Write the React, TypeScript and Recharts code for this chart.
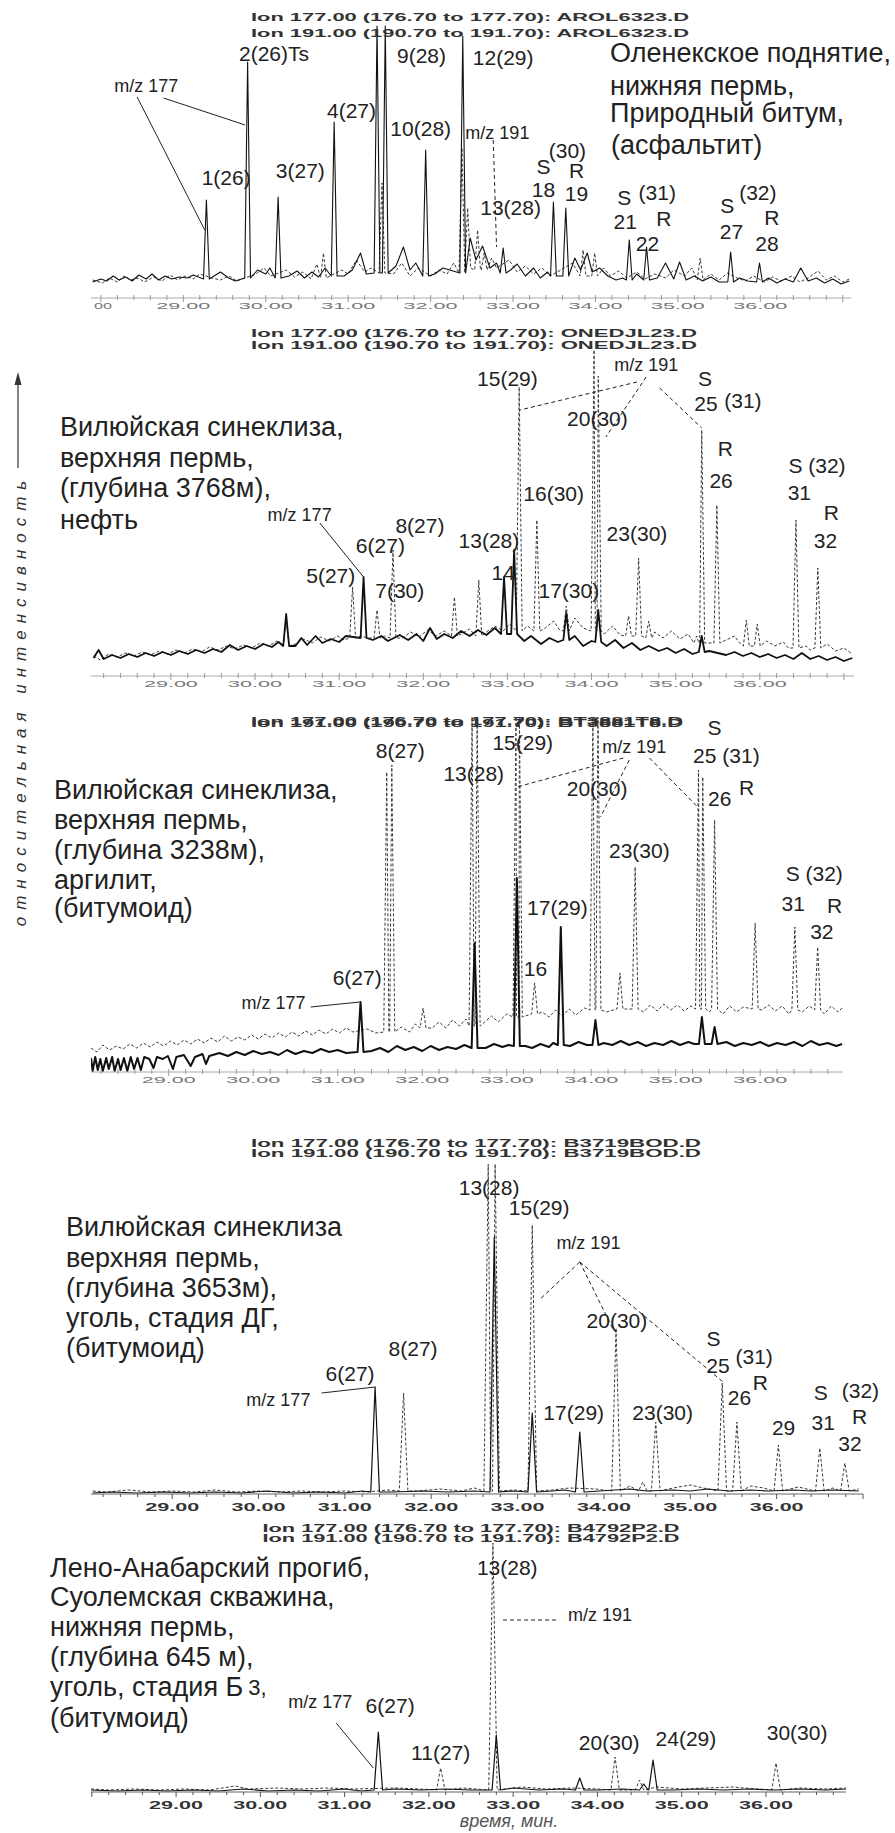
import React from 'react';
import { LineChart, Line, XAxis, YAxis, ReferenceDot, ReferenceLine } from 'recharts';

// Chromatogram data: retention time (min) and intensity (relative units above the time axis).
// Peaks are [time, apex, foot]; background points are [time, level].
type Peak = [number, number, number];
type Pt = [number, number];
type Lbl = [string, number, number, 'p' | 'm'];
type Leader = [number, number, number, number, 0 | 1];

// Minutes that carry a printed label on the time axes
const LABELLED_MINUTES = [29, 30, 31, 32, 33, 34, 35, 36];

// ---------- Panel 1: AROL6323 ----------
const P1_177_PEAKS: Peak[] = [
  [29.28, 98, 19], [29.78, 236, 20], [30.15, 101, 20], [30.83, 176, 22], [31.35, 272, 25],
  [31.45, 272, 25], [31.94, 148, 22], [32.39, 262, 25], [32.88, 50, 25], [33.49, 96, 22],
  [33.64, 90, 22], [34.41, 58, 18], [34.62, 51, 18], [35.64, 46, 16], [35.99, 35, 16],
];
const P1_177_NOISE: Pt[] = [
  [27.90, 16], [28.00, 19], [28.07, 17], [28.15, 22], [28.22, 18], [28.30, 21], [28.38, 17], [28.46, 23],
  [28.55, 19], [28.62, 24], [28.70, 18], [28.78, 22], [28.86, 19], [28.95, 21], [29.05, 20], [29.12, 23],
  [29.45, 26], [29.55, 20], [29.63, 17], [29.90, 28], [30.00, 24], [30.05, 30], [30.28, 22], [30.38, 27],
  [30.47, 20], [30.56, 26], [30.64, 21], [30.72, 30], [30.95, 22], [31.05, 28], [31.15, 45], [31.22, 24],
  [31.58, 32], [31.67, 51], [31.75, 28], [31.82, 35], [32.05, 24], [32.15, 30], [32.48, 60], [32.55, 38],
  [32.63, 52], [32.72, 30], [32.80, 35], [32.97, 28], [33.05, 34], [33.15, 22], [33.25, 30], [33.33, 20],
  [33.42, 26], [33.75, 40], [33.82, 28], [33.90, 45], [33.96, 26], [34.05, 30], [34.15, 22], [34.25, 18],
  [34.33, 20], [34.50, 24], [34.75, 20], [34.85, 35], [34.95, 19], [35.02, 36], [35.10, 18], [35.20, 22],
  [35.30, 17], [35.40, 21], [35.50, 16], [35.75, 20], [35.85, 17], [36.10, 20], [36.20, 15], [36.30, 19],
  [36.40, 16], [36.49, 30], [36.58, 17], [36.68, 20], [36.78, 15], [36.88, 19], [36.98, 14], [37.08, 17],
];
const P1_191_PEAKS: Peak[] = [
  [30.70, 45, 20], [31.41, 115, 25], [32.38, 150, 25], [32.45, 90, 30], [32.57, 68, 28],
  [32.65, 45, 28], [33.85, 48, 22], [33.99, 45, 22], [35.27, 40, 18],
];
const P1_191_NOISE: Pt[] = [
  [27.90, 18], [28.02, 15], [28.10, 20], [28.20, 16], [28.28, 22], [28.36, 18], [28.45, 20], [28.53, 16],
  [28.64, 21], [28.74, 17], [28.84, 23], [28.93, 18], [29.02, 22], [29.12, 19], [29.20, 24], [29.35, 20],
  [29.45, 18], [29.55, 22], [29.65, 17], [29.88, 24], [29.98, 30], [30.06, 22], [30.25, 28], [30.35, 21],
  [30.45, 26], [30.55, 19], [30.62, 34], [30.78, 22], [30.92, 28], [31.00, 24], [31.10, 38], [31.20, 26],
  [31.28, 30], [31.55, 24], [31.65, 35], [31.75, 22], [31.85, 30], [32.00, 22], [32.10, 28], [32.20, 24],
  [32.28, 35], [32.74, 40], [32.80, 30], [32.95, 38], [33.05, 26], [33.15, 32], [33.25, 24], [33.35, 30],
  [33.45, 22], [33.58, 28], [33.72, 35], [34.10, 30], [34.18, 22], [34.28, 27], [34.38, 20], [34.50, 26],
  [34.60, 19], [34.72, 24], [34.85, 20], [34.95, 28], [35.08, 22], [35.17, 30], [35.40, 24], [35.50, 18],
  [35.60, 25], [35.72, 20], [35.82, 17], [35.92, 22], [36.05, 16], [36.15, 21], [36.25, 17], [36.38, 22],
  [36.48, 16], [36.58, 20], [36.70, 27], [36.80, 18], [36.90, 22], [37.00, 16], [37.08, 19],
];
const P1_LABELS: Lbl[] = [
  ['m/z 177', 28.55, 212, 'm'], ['1(26)', 29.52, 121, 'p'], ['2(26)Ts', 30.10, 245, 'p'],
  ['3(27)', 30.42, 128, 'p'], ['4(27)', 31.04, 188, 'p'], ['9(28)', 31.89, 243, 'p'],
  ['10(28)', 31.88, 170, 'p'], ['12(29)', 32.88, 241, 'p'], ['m/z 191', 32.81, 165, 'm'],
  ['13(28)', 32.97, 91, 'p'], ['S', 33.37, 132, 'p'], ['(30)', 33.66, 148, 'p'], ['18', 33.37, 109, 'p'],
  ['R', 33.77, 128, 'p'], ['19', 33.77, 105, 'p'], ['S', 34.35, 101, 'p'], ['(31)', 34.75, 106, 'p'],
  ['21', 34.36, 77, 'p'], ['R', 34.83, 80, 'p'], ['22', 34.63, 55, 'p'], ['S', 35.60, 93, 'p'],
  ['(32)', 35.97, 106, 'p'], ['27', 35.65, 67, 'p'], ['R', 36.14, 81, 'p'], ['28', 36.08, 55, 'p'],
];
const P1_LEADERS: Leader[] = [
  [28.44, 201, 29.26, 68, 0], [28.76, 200, 29.75, 173, 0], [32.76, 158, 32.80, 51, 1],
];
const P1_HEADER = ['Ion 177.00 (176.70 to 177.70): AROL6323.D', 'Ion 191.00 (190.70 to 191.70): AROL6323.D'];
const P1_CAPTION = ['Оленекское поднятие,', 'нижняя пермь,', 'Природный битум,', ' (асфальтит)'];

// ---------- Panel 2: ONEDJL23 ----------
const P2_177_PEAKS: Peak[] = [
  [30.37, 62, 30], [31.29, 99, 38], [32.96, 99, 42], [33.08, 126, 42], [33.70, 63, 36],
  [34.08, 66, 34], [35.31, 40, 24],
];
const P2_177_NOISE: Pt[] = [
  [28.08, 18], [28.14, 26], [28.20, 17], [28.30, 21], [28.40, 18], [28.50, 22], [28.60, 19], [28.70, 23],
  [28.80, 20], [28.90, 24], [29.00, 21], [29.10, 25], [29.20, 22], [29.30, 26], [29.40, 23], [29.50, 27],
  [29.60, 24], [29.70, 31], [29.80, 26], [29.90, 30], [30.00, 27], [30.10, 32], [30.20, 29], [30.28, 34],
  [30.48, 30], [30.55, 38], [30.62, 31], [30.72, 40], [30.80, 33], [30.90, 37], [31.00, 34], [31.08, 40],
  [31.40, 36], [31.50, 40], [31.58, 35], [31.72, 41], [31.82, 36], [31.92, 42], [32.00, 35], [32.08, 48],
  [32.16, 37], [32.25, 42], [32.35, 38], [32.45, 45], [32.55, 40], [32.65, 46], [32.75, 41], [32.85, 48],
  [33.20, 35], [33.28, 40], [33.40, 32], [33.50, 38], [33.60, 34], [33.80, 40], [33.90, 30], [34.00, 35],
  [34.18, 30], [34.28, 36], [34.38, 28], [34.48, 33], [34.58, 26], [34.68, 30], [34.80, 25], [34.90, 28],
  [35.00, 23], [35.10, 27], [35.20, 22], [35.40, 25], [35.60, 21], [35.70, 24], [35.80, 20], [35.90, 23],
  [36.00, 19], [36.10, 22], [36.20, 18], [36.30, 21], [36.40, 17], [36.50, 23], [36.60, 17], [36.70, 20],
  [36.80, 16], [36.90, 19], [37.00, 15], [37.10, 18],
];
const P2_191_PEAKS: Peak[] = [
  [30.37, 55, 30], [31.16, 89, 38], [31.45, 66, 38], [31.64, 126, 38], [32.37, 79, 40], [32.66, 96, 40],
  [33.14, 289, 45], [33.35, 156, 45], [33.70, 70, 45], [34.03, 326, 45], [34.08, 300, 45],
  [34.44, 60, 40], [34.56, 118, 40], [34.68, 55, 38], [35.25, 40, 33], [35.31, 246, 33],
  [35.49, 171, 33], [35.84, 56, 30], [35.97, 52, 30], [36.43, 156, 28], [36.69, 108, 28],
];
const P2_191_NOISE: Pt[] = [
  [28.08, 20], [28.16, 16], [28.26, 22], [28.36, 19], [28.46, 23], [28.56, 20], [28.66, 24], [28.76, 21],
  [28.86, 25], [28.96, 22], [29.06, 26], [29.16, 23], [29.26, 27], [29.36, 24], [29.46, 29], [29.56, 26],
  [29.66, 30], [29.76, 27], [29.86, 31], [29.96, 28], [30.06, 33], [30.16, 30], [30.26, 35], [30.48, 32],
  [30.58, 37], [30.68, 33], [30.78, 39], [30.88, 35], [30.98, 40], [31.06, 36], [31.26, 40], [31.34, 38],
  [31.54, 40], [31.75, 38], [31.85, 44], [31.95, 39], [32.05, 46], [32.15, 40], [32.25, 45], [32.45, 42],
  [32.55, 47], [32.75, 44], [32.85, 50], [32.95, 45], [33.03, 52], [33.24, 50], [33.45, 48], [33.55, 55],
  [33.62, 46], [33.80, 58], [33.90, 48], [34.15, 42], [34.25, 50], [34.34, 41], [34.75, 44], [34.85, 38],
  [34.95, 45], [35.05, 37], [35.15, 42], [35.60, 36], [35.70, 40], [35.76, 33], [36.08, 35], [36.18, 30],
  [36.28, 34], [36.34, 28], [36.55, 30], [36.60, 26], [36.80, 32], [36.90, 25], [37.00, 28], [37.10, 22],
];
const P2_LABELS: Lbl[] = [
  ['m/z 177', 30.53, 161, 'm'], ['5(27)', 30.90, 101, 'p'], ['6(27)', 31.49, 131, 'p'],
  ['7(30)', 31.72, 86, 'p'], ['8(27)', 31.96, 151, 'p'], ['13(28)', 32.78, 136, 'p'],
  ['14', 32.95, 104, 'p'], ['15(29)', 33.00, 298, 'p'], ['16(30)', 33.55, 183, 'p'],
  ['17(30)', 33.73, 86, 'p'], ['20(30)', 34.07, 258, 'p'], ['m/z 191', 34.65, 311, 'm'],
  ['23(30)', 34.54, 143, 'p'], ['S', 35.35, 298, 'p'], ['25', 35.36, 273, 'p'], ['(31)', 35.80, 276, 'p'],
  ['R', 35.59, 228, 'p'], ['26', 35.54, 196, 'p'], ['S (32)', 36.68, 211, 'p'], ['31', 36.47, 184, 'p'],
  ['R', 36.85, 164, 'p'], ['32', 36.78, 136, 'p'],
];
const P2_LEADERS: Leader[] = [
  [30.77, 153, 31.29, 99, 0], [34.54, 294, 33.15, 266, 1], [34.65, 299, 34.17, 239, 1], [34.81, 288, 35.31, 248, 1],
];
const P2_HEADER = ['Ion 177.00 (176.70 to 177.70): ONEDJL23.D', 'Ion 191.00 (190.70 to 191.70): ONEDJL23.D'];
const P2_CAPTION = ['Вилюйская синеклиза,', 'верхняя пермь,', '(глубина 3768м),', 'нефть'];

// ---------- Panel 3: BT3881T8 ----------
const P3_177_PEAKS: Peak[] = [
  [31.27, 70, 20], [32.62, 129, 24], [33.12, 194, 26], [33.64, 145, 27], [34.05, 52, 27],
  [35.31, 55, 28], [35.46, 45, 28],
];
const P3_177_NOISE: Pt[] = [
  [28.08, 14], [28.10, 1], [28.13, 15], [28.16, 2], [28.19, 13], [28.22, 1], [28.26, 14], [28.29, 3],
  [28.33, 15], [28.36, 1], [28.40, 13], [28.43, 2], [28.47, 14], [28.51, 1], [28.55, 15], [28.59, 3],
  [28.63, 14], [28.67, 2], [28.71, 15], [28.77, 13], [28.82, 4], [28.86, 15], [28.93, 13], [28.99, 16],
  [29.05, 3], [29.09, 15], [29.18, 17], [29.26, 6], [29.31, 15], [29.40, 18], [29.44, 8], [29.48, 16],
  [29.60, 19], [29.70, 16], [29.80, 20], [29.90, 17], [30.00, 21], [30.10, 18], [30.20, 20], [30.30, 17],
  [30.40, 22], [30.50, 18], [30.60, 21], [30.70, 19], [30.80, 23], [30.90, 20], [31.00, 22], [31.10, 19],
  [31.40, 21], [31.50, 24], [31.60, 20], [31.70, 26], [31.80, 22], [31.90, 25], [32.00, 21], [32.10, 26],
  [32.20, 22], [32.30, 25], [32.40, 23], [32.50, 27], [32.75, 24], [32.85, 28], [32.95, 25], [33.02, 27],
  [33.22, 26], [33.30, 24], [33.40, 28], [33.50, 25], [33.55, 29], [33.75, 26], [33.85, 30], [33.95, 27],
  [34.15, 29], [34.25, 27], [34.35, 31], [34.45, 27], [34.55, 30], [34.65, 26], [34.75, 29], [34.85, 27],
  [34.95, 31], [35.05, 27], [35.15, 30], [35.22, 28], [35.60, 30], [35.70, 26], [35.80, 29], [35.90, 27],
  [36.00, 30], [36.10, 26], [36.20, 29], [36.30, 27], [36.40, 30], [36.50, 26], [36.60, 31], [36.70, 27],
  [36.80, 29], [36.90, 26], [36.97, 28],
];
const P3_191_PEAKS: Peak[] = [
  [31.58, 300, 40], [31.64, 307, 40], [32.01, 64, 44], [32.59, 355, 46], [32.65, 355, 46],
  [33.11, 355, 55], [33.15, 355, 55], [33.33, 89, 58], [34.02, 355, 62], [34.08, 355, 62],
  [34.34, 99, 63], [34.52, 205, 63], [35.27, 302, 63], [35.32, 295, 63], [35.46, 252, 63],
  [35.94, 149, 63], [36.41, 145, 62], [36.68, 125, 62],
];
const P3_191_NOISE: Pt[] = [
  [28.08, 24], [28.15, 20], [28.22, 27], [28.30, 22], [28.38, 26], [28.46, 23], [28.54, 28], [28.62, 24],
  [28.70, 29], [28.78, 25], [28.86, 30], [28.94, 26], [29.02, 31], [29.10, 27], [29.18, 32], [29.26, 28],
  [29.34, 33], [29.42, 29], [29.50, 34], [29.58, 30], [29.66, 36], [29.74, 31], [29.82, 35], [29.90, 32],
  [29.98, 37], [30.06, 33], [30.14, 38], [30.22, 34], [30.30, 39], [30.38, 35], [30.46, 40], [30.54, 36],
  [30.62, 41], [30.70, 37], [30.78, 42], [30.86, 38], [30.94, 43], [31.02, 39], [31.10, 44], [31.18, 40],
  [31.35, 43], [31.45, 39], [31.75, 45], [31.85, 40], [31.92, 48], [32.12, 44], [32.20, 50], [32.28, 44],
  [32.36, 52], [32.44, 46], [32.52, 53], [32.74, 50], [32.82, 56], [32.90, 50], [33.00, 58], [33.22, 56],
  [33.42, 60], [33.50, 55], [33.58, 62], [33.66, 56], [33.74, 63], [33.82, 57], [33.92, 64], [34.18, 60],
  [34.42, 63], [34.62, 60], [34.70, 67], [34.78, 61], [34.86, 68], [34.94, 62], [35.02, 67], [35.10, 61],
  [35.18, 66], [35.40, 60], [35.56, 58], [35.64, 66], [35.72, 60], [35.80, 65], [36.02, 62], [36.10, 67],
  [36.18, 61], [36.26, 66], [36.34, 58], [36.50, 60], [36.58, 66], [36.76, 58], [36.84, 66], [36.92, 60],
  [36.97, 64],
];
const P3_LABELS: Lbl[] = [
  ['m/z 177', 30.24, 69, 'm'], ['6(27)', 31.23, 95, 'p'], ['8(27)', 31.74, 322, 'p'],
  ['13(28)', 32.61, 299, 'p'], ['15(29)', 33.19, 330, 'p'], ['16', 33.34, 104, 'p'],
  ['17(29)', 33.60, 165, 'p'], ['20(30)', 34.07, 284, 'p'], ['m/z 191', 34.51, 325, 'm'],
  ['23(30)', 34.57, 222, 'p'], ['S', 35.46, 345, 'p'], ['25 (31)', 35.60, 317, 'p'], ['26', 35.52, 274, 'p'],
  ['R', 35.84, 285, 'p'], ['S (32)', 36.64, 199, 'p'], ['31', 36.39, 169, 'p'], ['R', 36.88, 167, 'p'],
  ['32', 36.73, 141, 'p'],
];
const P3_LEADERS: Leader[] = [
  [30.68, 65, 31.26, 70, 0], [34.38, 314, 33.12, 285, 1], [34.45, 312, 34.11, 255, 1], [34.69, 314, 35.26, 265, 1],
];
const P3_HEADER = ['Ion 177.00 (176.70 to 177.70): BT3881T8.D', 'Ion 191.00 (190.70 to 191.70): BT3881T8.D'];
const P3_CAPTION = ['Вилюйская синеклиза,', 'верхняя пермь,', '(глубина 3238м),', 'аргилит,', '(битумоид)'];

// ---------- Panel 4: B3719BOD ----------
const P4_177_PEAKS: Peak[] = [
  [31.35, 107, 2], [32.73, 257, 2], [33.17, 81, 2], [33.72, 62, 2],
];
const P4_177_NOISE: Pt[] = [
  [28.08, 1], [28.30, 2], [28.60, 1], [28.90, 2], [29.20, 1], [29.50, 2], [29.80, 1], [30.10, 3],
  [30.40, 1], [30.70, 2], [31.00, 1], [31.20, 3], [31.55, 2], [31.90, 3], [32.20, 2], [32.50, 3],
  [32.95, 3], [33.40, 3], [33.55, 4], [33.95, 3], [34.30, 5], [34.50, 3], [34.80, 4], [35.00, 3],
  [35.20, 5], [35.45, 3], [35.70, 4], [35.90, 3], [36.20, 4], [36.40, 3], [36.65, 4], [36.95, 3],
];
const P4_191_PEAKS: Peak[] = [
  [31.68, 101, 3], [32.66, 330, 3], [32.74, 330, 3], [33.17, 269, 3], [34.14, 166, 3], [34.45, 12, 3],
  [34.60, 72, 3], [35.37, 111, 3], [35.54, 72, 3], [36.02, 49, 3], [36.50, 46, 3], [36.79, 31, 3],
];
const P4_191_NOISE: Pt[] = [
  [28.08, 3], [28.25, 2], [28.50, 4], [28.75, 2], [29.00, 3], [29.25, 2], [29.50, 4], [29.75, 2],
  [30.00, 3], [30.25, 2], [30.50, 3], [30.75, 2], [31.00, 3], [31.25, 2], [31.50, 4], [31.85, 3],
  [32.10, 5], [32.35, 3], [32.50, 6], [32.95, 4], [33.40, 4], [33.60, 6], [33.90, 5], [34.30, 8],
  [34.80, 6], [35.00, 9], [35.15, 6], [35.70, 8], [35.85, 6], [36.25, 7], [36.65, 6], [36.95, 5],
];
const P4_LABELS: Lbl[] = [
  ['m/z 177', 30.23, 94, 'm'], ['6(27)', 31.06, 121, 'p'], ['8(27)', 31.79, 146, 'p'],
  ['13(28)', 32.67, 307, 'p'], ['15(29)', 33.25, 287, 'p'], ['m/z 191', 33.82, 251, 'm'],
  ['17(29)', 33.65, 82, 'p'], ['20(30)', 34.15, 174, 'p'], ['23(30)', 34.68, 82, 'p'],
  ['S', 35.27, 156, 'p'], ['25', 35.32, 129, 'p'], ['(31)', 35.74, 138, 'p'], ['R', 35.81, 112, 'p'],
  ['26', 35.57, 97, 'p'], ['29', 36.08, 67, 'p'], ['S', 36.51, 102, 'p'], ['(32)', 36.97, 104, 'p'],
  ['31', 36.54, 72, 'p'], ['R', 36.96, 78, 'p'], ['32', 36.85, 51, 'p'],
];
const P4_LEADERS: Leader[] = [
  [30.73, 101, 31.35, 107, 0], [33.72, 232, 33.25, 194, 1], [33.72, 232, 34.11, 164, 1], [33.72, 232, 35.38, 112, 1],
];
const P4_HEADER = ['Ion 177.00 (176.70 to 177.70): B3719BOD.D', 'Ion 191.00 (190.70 to 191.70): B3719BOD.D'];
const P4_CAPTION = ['Вилюйская синеклиза', 'верхняя пермь,', '(глубина 3653м),', 'уголь, стадия ДГ,', '(битумоид)'];

// ---------- Panel 5: B4792P2 ----------
const P5_177_PEAKS: Peak[] = [
  [31.40, 60, 2], [32.80, 57, 2], [33.79, 14, 2], [34.55, 8, 2], [34.66, 32, 2],
];
const P5_177_NOISE: Pt[] = [
  [27.99, 2], [28.30, 1], [28.60, 2], [28.90, 1], [29.20, 2], [29.50, 1], [29.80, 3], [30.10, 1],
  [30.40, 2], [30.70, 1], [31.00, 3], [31.20, 1], [31.60, 3], [31.90, 2], [32.20, 3], [32.50, 2],
  [33.00, 4], [33.30, 2], [33.60, 3], [34.00, 2], [34.30, 3], [34.90, 2], [35.20, 3], [35.50, 2],
  [35.80, 3], [36.10, 2], [36.40, 3], [36.70, 2], [36.95, 3],
];
const P5_191_PEAKS: Peak[] = [
  [32.14, 24, 2], [32.76, 249, 2], [34.21, 35, 2], [34.50, 12, 2], [36.12, 29, 2],
];
const P5_191_NOISE: Pt[] = [
  [27.99, 3], [28.20, 2], [28.50, 3], [28.80, 2], [29.10, 3], [29.40, 2], [29.70, 6], [29.85, 3],
  [30.20, 4], [30.50, 3], [30.80, 4], [31.10, 3], [31.60, 4], [31.90, 3], [32.40, 4], [33.10, 5],
  [33.40, 3], [33.70, 4], [34.00, 3], [34.70, 5], [35.00, 3], [35.30, 4], [35.60, 5], [35.90, 3],
  [36.40, 4], [36.70, 3], [36.95, 4],
];
const P5_LABELS: Lbl[] = [
  ['m/z 177', 30.71, 90, 'm'], ['6(27)', 31.54, 87, 'p'], ['11(27)', 32.14, 40, 'p'],
  ['13(28)', 32.93, 225, 'p'], ['m/z 191', 34.03, 177, 'm'], ['20(30)', 34.14, 50, 'p'],
  ['24(29)', 35.05, 54, 'p'], ['30(30)', 36.37, 60, 'p'],
];
const P5_LEADERS: Leader[] = [
  [30.90, 69, 31.34, 24, 0], [32.88, 172, 33.52, 172, 1],
];
const P5_HEADER = ['Ion 177.00 (176.70 to 177.70): B4792P2.D', 'Ion 191.00 (190.70 to 191.70): B4792P2.D'];
const P5_CAPTION = ['Лено-Анабарский прогиб,', 'Суолемская скважина,', 'нижняя пермь,', '(глубина 645 м),', 'уголь, стадия Б', '(битумоид)'];

const Y_TITLE = 'относительная интенсивность';
const X_TITLE = 'время, мин.';

// ---------- helpers ----------
const FONT = '"Liberation Sans", Arial, Helvetica, sans-serif';

function buildTrace(peaks: Peak[], noise: Pt[], w: number) {
  const pts: { t: number; v: number }[] = [];
  for (const [t, apex, foot] of peaks) {
    pts.push({ t: t - w, v: foot }, { t, v: apex }, { t: t + w, v: foot });
  }
  for (const [t, v] of noise) {
    if (peaks.some(([pt]) => Math.abs(pt - t) < w + 0.012)) continue;
    pts.push({ t, v });
  }
  return pts.sort((a, b) => a.t - b.t);
}

function timeTicks(domain: [number, number]) {
  const out: number[] = [];
  for (let k = Math.ceil(domain[0] * 5); k <= Math.floor(domain[1] * 5); k++) out.push(k / 5);
  return out;
}

interface PanelCfg {
  plotTop: number;
  axisY: number;
  left: number;
  right: number;
  domain: [number, number];
  solidW: number;
  bold: boolean;
  clipFirst: boolean;
  s177: { t: number; v: number }[];
  s191: { t: number; v: number }[];
  labels: Lbl[];
  leaders: Leader[];
}

function TimeTick(props: any) {
  const { x, y, payload, bold, clipFirst } = props;
  const t: number = payload.value;
  const k = Math.round(t * 5);
  const major = k % 5 === 0;
  const mark = bold
    ? <line x1={x} x2={x} y1={y} y2={y + (major ? 5 : 3)} stroke="#555" strokeWidth={1} />
    : <line x1={x} x2={x} y1={y - 3} y2={y + (major ? 4 : 2)} stroke="#999" strokeWidth={1} />;
  const minute = Math.round(t);
  const stub = clipFirst && major && minute === 28;
  if (!major || (!stub && !LABELLED_MINUTES.includes(minute))) return <g>{mark}</g>;
  const txt = stub ? '00' : t.toFixed(2);
  return (
    <g>
      {mark}
      <text
        x={stub ? x + 2 : x}
        y={y + (bold ? 12.5 : 7.5)}
        textAnchor="middle"
        dominantBaseline="central"
        fontFamily={FONT}
        fontSize={bold ? 10.5 : 9}
        fontWeight={bold ? 'bold' : 'normal'}
        fill={bold ? '#333' : '#777'}
        textLength={stub ? 18 : 54}
        lengthAdjust="spacingAndGlyphs"
      >
        {txt}
      </text>
    </g>
  );
}

function PeakLabel(props: any) {
  const { viewBox, txt, kind } = props;
  if (!viewBox) return null;
  return (
    <text
      x={viewBox.x}
      y={viewBox.y}
      textAnchor="middle"
      dominantBaseline="central"
      fontFamily={FONT}
      fontSize={kind === 'm' ? 18 : 21}
      fill="#222"
    >
      {txt}
    </text>
  );
}

function Panel({ cfg }: { cfg: PanelCfg }) {
  const plotH = cfg.axisY - cfg.plotTop;
  const height = plotH + 26;
  const ticks = timeTicks(cfg.domain);
  return (
    <div style={{ position: 'absolute', left: 0, top: cfg.plotTop }}>
      <LineChart
        width={895}
        height={height}
        margin={{ top: 0, right: 895 - cfg.right, bottom: 0, left: cfg.left }}
      >
        <XAxis
          dataKey="t"
          type="number"
          domain={cfg.domain}
          allowDataOverflow
          ticks={ticks}
          interval={0}
          height={26}
          tickSize={0}
          tickMargin={0}
          tickLine={false}
          axisLine={{ stroke: cfg.bold ? '#666' : '#aaa', strokeWidth: 1 }}
          tick={<TimeTick bold={cfg.bold} clipFirst={cfg.clipFirst} />}
        />
        <YAxis type="number" domain={[0, plotH]} allowDataOverflow hide />
        <Line
          data={cfg.s191}
          dataKey="v"
          type="linear"
          stroke="#3a3a3a"
          strokeWidth={1}
          strokeDasharray="3 2"
          dot={false}
          activeDot={false}
          isAnimationActive={false}
        />
        <Line
          data={cfg.s177}
          dataKey="v"
          type="linear"
          stroke="#111"
          strokeWidth={cfg.solidW}
          strokeLinejoin="round"
          dot={false}
          activeDot={false}
          isAnimationActive={false}
        />
        {cfg.leaders.map(([t1, v1, t2, v2, dashed], i) => (
          <ReferenceLine
            key={`ld${i}`}
            segment={[{ x: t1, y: v1 }, { x: t2, y: v2 }]}
            stroke="#222"
            strokeWidth={1}
            strokeDasharray={dashed ? '4 3' : undefined}
            ifOverflow="visible"
          />
        ))}
        {cfg.labels.map(([txt, t, v, kind], i) => (
          <ReferenceDot
            key={`lb${i}`}
            x={t}
            y={v}
            r={0}
            fill="none"
            stroke="none"
            ifOverflow="visible"
            label={<PeakLabel txt={txt} kind={kind} />}
          />
        ))}
      </LineChart>
    </div>
  );
}

const PANELS: PanelCfg[] = [
  {
    plotTop: 20, axisY: 298, left: 91, right: 851, domain: [27.88, 37.1], solidW: 1.1,
    bold: false, clipFirst: true,
    s177: buildTrace(P1_177_PEAKS, P1_177_NOISE, 0.035), s191: buildTrace(P1_191_PEAKS, P1_191_NOISE, 0.035),
    labels: P1_LABELS, leaders: P1_LEADERS,
  },
  {
    plotTop: 345, axisY: 676, left: 91, right: 854, domain: [28.05, 37.12], solidW: 1.8,
    bold: false, clipFirst: false,
    s177: buildTrace(P2_177_PEAKS, P2_177_NOISE, 0.035), s191: buildTrace(P2_191_PEAKS, P2_191_NOISE, 0.035),
    labels: P2_LABELS, leaders: P2_LEADERS,
  },
  {
    plotTop: 712, axisY: 1072, left: 91, right: 843, domain: [28.08, 36.98], solidW: 2,
    bold: false, clipFirst: false,
    s177: buildTrace(P3_177_PEAKS, P3_177_NOISE, 0.035), s191: buildTrace(P3_191_PEAKS, P3_191_NOISE, 0.035),
    labels: P3_LABELS, leaders: P3_LEADERS,
  },
  {
    plotTop: 1160, axisY: 1494, left: 91, right: 863, domain: [28.06, 37.0], solidW: 1.2,
    bold: true, clipFirst: false,
    s177: buildTrace(P4_177_PEAKS, P4_177_NOISE, 0.05), s191: buildTrace(P4_191_PEAKS, P4_191_NOISE, 0.05),
    labels: P4_LABELS, leaders: P4_LEADERS,
  },
  {
    plotTop: 1540, axisY: 1792, left: 91, right: 846, domain: [27.99, 36.95], solidW: 1.2,
    bold: true, clipFirst: false,
    s177: buildTrace(P5_177_PEAKS, P5_177_NOISE, 0.05), s191: buildTrace(P5_191_PEAKS, P5_191_NOISE, 0.05),
    labels: P5_LABELS, leaders: P5_LEADERS,
  },
];

// Header lines above each chromatogram: [lines, centre x, y of each line, stretched width]
const HEADERS: [string[], number, number[], number][] = [
  [P1_HEADER, 470, [17, 33], 438],
  [P2_HEADER, 474, [333, 345], 446],
  [P3_HEADER, 467, [721, 723], 432],
  [P4_HEADER, 476, [1143, 1153], 450],
  [P5_HEADER, 471, [1528, 1538], 417],
];

// Sample descriptions: [lines, x, centre y of each line]
const CAPTIONS: [string[], number, number[]][] = [
  [P2_CAPTION, 60, [427, 458, 488, 520]],
  [P3_CAPTION, 54, [790, 820, 850, 880, 908]],
  [P4_CAPTION, 66, [1227, 1258, 1288, 1318, 1348]],
];

function Overlay() {
  const textStyle = { fontFamily: FONT, fontSize: 27, fill: '#222' };
  return (
    <svg width={895} height={1833} style={{ position: 'absolute', left: 0, top: 0, pointerEvents: 'none' }}>
      {HEADERS.map(([lines, cx, ys, len], i) =>
        lines.map((s, j) => (
          <text
            key={`h${i}-${j}`}
            x={cx}
            y={ys[j]}
            textAnchor="middle"
            dominantBaseline="central"
            fontFamily={FONT}
            fontWeight="bold"
            fontSize={11}
            fill="#333"
            textLength={len}
            lengthAdjust="spacingAndGlyphs"
          >
            {s}
          </text>
        )),
      )}
      {P1_CAPTION.map((s, j) => (
        <text key={`c1-${j}`} x={j === 3 ? 611 : 610} y={[53, 86, 113, 145][j]} dominantBaseline="central" style={textStyle}>
          {s}
        </text>
      ))}
      {CAPTIONS.map(([lines, x, ys], i) =>
        lines.map((s, j) => (
          <text key={`c${i}-${j}`} x={x} y={ys[j]} dominantBaseline="central" style={textStyle}>
            {s}
          </text>
        )),
      )}
      {P5_CAPTION.map((s, j) => (
        <text key={`c5-${j}`} x={50} y={[1568, 1597, 1627, 1657, 1687, 1718][j]} dominantBaseline="central" style={textStyle}>
          {s}
          {j === 4 ? <tspan fontSize={22} dx={5}>3,</tspan> : null}
        </text>
      ))}
      {/* vertical intensity axis title with arrow */}
      <line x1={18} x2={18} y1={468} y2={382} stroke="#333" strokeWidth={1.2} />
      <polygon points="18,372 14.5,385 21.5,385" fill="#333" />
      <text
        x={20}
        y={700}
        transform="rotate(-90 20 700)"
        textAnchor="middle"
        dominantBaseline="central"
        fontFamily={FONT}
        fontStyle="italic"
        fontSize={17}
        letterSpacing={7}
        fill="#333"
      >
        {Y_TITLE}
      </text>
      <text x={509} y={1821} textAnchor="middle" dominantBaseline="central" fontFamily={FONT} fontStyle="italic" fontSize={18} fill="#555">
        {X_TITLE}
      </text>
    </svg>
  );
}

export default function App() {
  return (
    <div style={{ position: 'absolute', left: 0, top: 0, width: 895, height: 1833, background: '#fff', overflow: 'hidden' }}>
      {PANELS.map((cfg, i) => (
        <Panel key={i} cfg={cfg} />
      ))}
      <Overlay />
    </div>
  );
}
